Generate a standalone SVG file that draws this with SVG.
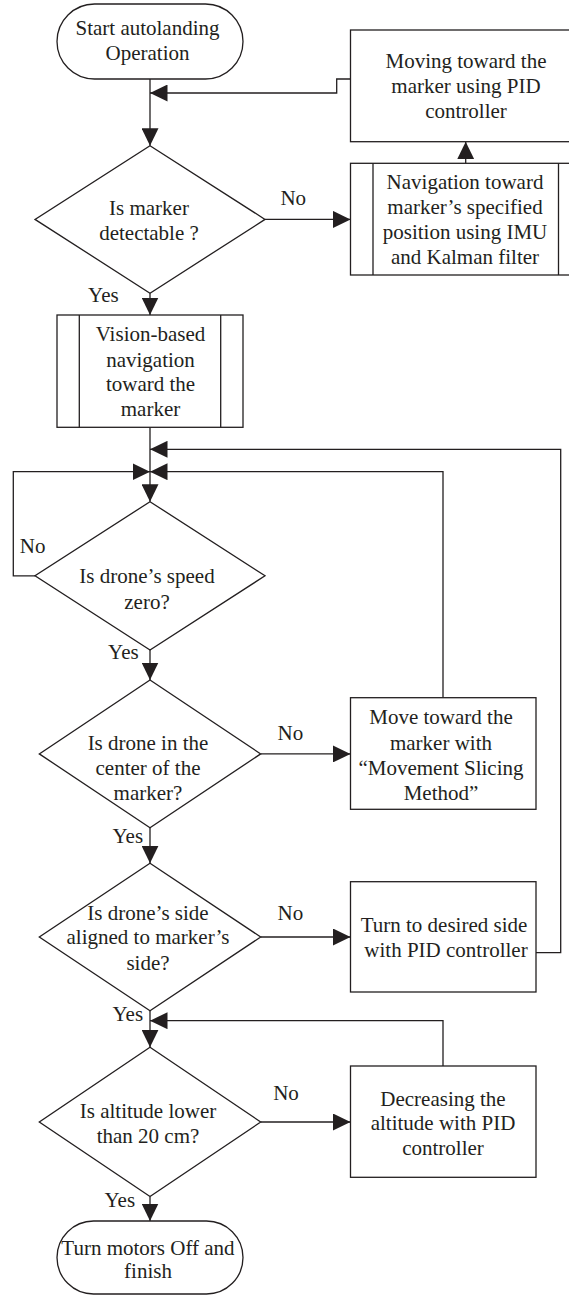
<svg xmlns="http://www.w3.org/2000/svg" width="569" height="1296" viewBox="0 0 569 1296">
<style>
.n{fill:#fff;stroke:#231f20;stroke-width:1.3}
.c{fill:none;stroke:#231f20;stroke-width:1.3}
text{font-family:"Liberation Serif","Times New Roman",serif;font-size:21px;fill:#231f20;text-anchor:middle}
</style>
<defs>
<marker id="a" markerUnits="userSpaceOnUse" markerWidth="18" markerHeight="17" refX="17.5" refY="8.5" orient="auto">
<path d="M0,0 L17.5,8.5 L0,17 z" fill="#231f20"/>
</marker>
</defs>
<g id="connectors">
<path class="c" d="M150,79 V145.7" marker-end="url(#a)"/>
<path class="c" d="M350.5,79 H336.7 V93 H150" marker-end="url(#a)"/>
<path class="c" d="M265,219.4 H350.5" marker-end="url(#a)"/>
<path class="c" d="M465.7,163.3 V141.7" marker-end="url(#a)"/>
<path class="c" d="M150,293.2 V315" marker-end="url(#a)"/>
<path class="c" d="M150,427.3 V501.7" marker-end="url(#a)"/>
<path class="c" d="M536,952.7 H560.7 V449.3 H150" marker-end="url(#a)"/>
<path class="c" d="M443,697.7 V471.7 H150" marker-end="url(#a)"/>
<path class="c" d="M35,575.8 H13.3 V471.7 H150" marker-end="url(#a)"/>
<path class="c" d="M150,650 V680" marker-end="url(#a)"/>
<path class="c" d="M260.7,753.9 H350.5" marker-end="url(#a)"/>
<path class="c" d="M150,827.7 V863.3" marker-end="url(#a)"/>
<path class="c" d="M260.7,937 H350.5" marker-end="url(#a)"/>
<path class="c" d="M150,1010.7 V1047.3" marker-end="url(#a)"/>
<path class="c" d="M443,1066 V1020.7 H150" marker-end="url(#a)"/>
<path class="c" d="M260.7,1122 H350.5" marker-end="url(#a)"/>
<path class="c" d="M150,1196.5 V1221" marker-end="url(#a)"/>
<text x="293.3" y="204.7">No</text>
<text x="103.4" y="302">Yes</text>
<text x="32.7" y="552.7">No</text>
<text x="123.4" y="658.7">Yes</text>
<text x="290.4" y="740.3">No</text>
<text x="127.8" y="843">Yes</text>
<text x="290.4" y="920.3">No</text>
<text x="127.8" y="1021.3">Yes</text>
<text x="286" y="1100.3">No</text>
<text x="119.8" y="1207">Yes</text>
</g>
<g id="start">
<rect class="n" x="57" y="4" width="186" height="75" rx="37.5"/>
<text x="147.5" y="35">Start autolanding</text>
<text x="147.5" y="60">Operation</text>
</g>
<g id="moving">
<rect class="n" x="350.5" y="30" width="230.5" height="111.7"/>
<text x="466" y="68">Moving toward the</text>
<text x="466" y="93">marker using PID</text>
<text x="466" y="118">controller</text>
</g>
<g id="navigation">
<rect class="n" x="350.5" y="163.3" width="230.5" height="111.7"/>
<path class="c" d="M373,163.3 V275 M558.5,163.3 V275"/>
<text x="465" y="188.7">Navigation toward</text>
<text x="465" y="213.7">marker’s specified</text>
<text x="465" y="238.7">position using IMU</text>
<text x="465" y="263.7">and Kalman filter</text>
</g>
<g id="d1">
<path class="n" d="M150,145.7 L265,219.4 L150,293.2 L35,219.4 Z"/>
<text x="149" y="214.7">Is marker</text>
<text x="149" y="239.7">detectable ?</text>
</g>
<g id="vision">
<rect class="n" x="57" y="315" width="186" height="112.3"/>
<path class="c" d="M79.3,315 V427.3 M220.7,315 V427.3"/>
<text x="150.5" y="341.3">Vision-based</text>
<text x="150.5" y="367">navigation</text>
<text x="150.5" y="391.3">toward the</text>
<text x="150.5" y="416.3">marker</text>
</g>
<g id="d2">
<path class="n" d="M150,501.7 L265,575.8 L150,650 L35,575.8 Z"/>
<text x="147" y="582.7">Is drone’s speed</text>
<text x="147" y="608.7">zero?</text>
</g>
<g id="d3">
<path class="n" d="M150,680 L260.7,753.9 L150,827.7 L39.3,753.9 Z"/>
<text x="148" y="749.7">Is drone in the</text>
<text x="148" y="774.7">center of the</text>
<text x="148" y="799.7">marker?</text>
</g>
<g id="move">
<rect class="n" x="350.5" y="697.7" width="185.5" height="111.6"/>
<text x="441" y="724.3">Move toward the</text>
<text x="441" y="749.7">marker with</text>
<text x="441" y="774.7">“Movement Slicing</text>
<text x="441" y="799.7">Method”</text>
</g>
<g id="d4">
<path class="n" d="M150,863.3 L260.7,937 L150,1010.7 L39.3,937 Z"/>
<text x="148" y="919.7">Is drone’s side</text>
<text x="148" y="944.3">aligned to marker’s</text>
<text x="148" y="970.3">side?</text>
</g>
<g id="turn">
<rect class="n" x="350.5" y="881.7" width="185.5" height="110.3"/>
<text x="444" y="932">Turn to desired side</text>
<text x="446" y="957">with PID controller</text>
</g>
<g id="d5">
<path class="n" d="M150,1047.3 L260.7,1122 L150,1196.5 L39.3,1122 Z"/>
<text x="148" y="1117.7">Is altitude lower</text>
<text x="148" y="1143">than 20 cm?</text>
</g>
<g id="decreasing">
<rect class="n" x="350.5" y="1066" width="185.5" height="111.3"/>
<text x="443" y="1106">Decreasing the</text>
<text x="443" y="1130.3">altitude with PID</text>
<text x="443" y="1155.3">controller</text>
</g>
<g id="end">
<rect class="n" x="57" y="1221" width="186" height="73" rx="36.5"/>
<text x="148" y="1255">Turn motors Off and</text>
<text x="148" y="1278.3">finish</text>
</g>
</svg>
